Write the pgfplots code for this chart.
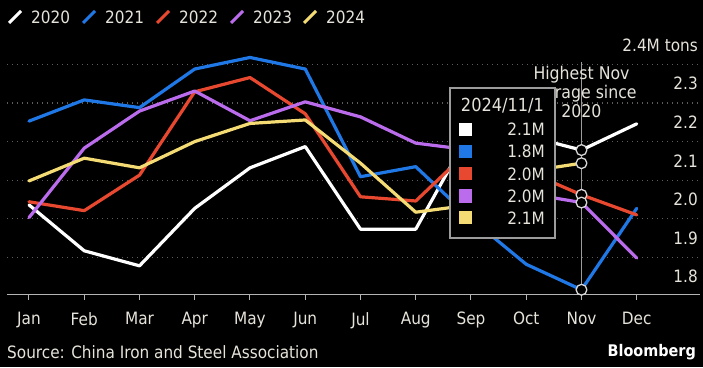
\documentclass[border=0pt]{standalone}
\usepackage{fontspec}
\setmainfont{DejaVu Sans Condensed}
\usepackage{pgfplots}
\pgfplotsset{compat=1.18}
\definecolor{txt}{HTML}{E6E3DA}
\definecolor{gridcol}{HTML}{5C5C5C}
\definecolor{basecol}{HTML}{B4B4B4}
\definecolor{vcol}{HTML}{9C9C9C}
\definecolor{mcol}{HTML}{D8D8D8}
\definecolor{cwhite}{HTML}{FFFFFF}
\definecolor{cblue}{HTML}{1F78E6}
\definecolor{cred}{HTML}{E8482F}
\definecolor{cpurple}{HTML}{BA6CEC}
\definecolor{cyellow}{HTML}{F4DB74}
\begin{document}
\begin{tikzpicture}[x=1pt,y=1pt]
\path[fill=black, use as bounding box] (0,0) rectangle (703,367);
\begin{axis}[
  at={(7pt,73pt)}, anchor=south west,
  width=693pt, height=256.6pt, scale only axis,
  xmin=-0.398, xmax=12.145, ymin=1.755, ymax=2.42,
  axis line style={draw=none},
  clip=false,
  xtick={0,...,11},
  xticklabels={Jan,Feb,Mar,Apr,May,Jun,Jul,Aug,Sep,Oct,Nov,Dec},
  xtick pos=bottom, tick align=outside, major tick length=6pt,
  xtick style={draw=basecol, line width=1pt},
  xticklabel style={anchor=north, inner sep=0pt, yshift=-12pt},
  ytick={1.8,1.9,2.0,2.1,2.2,2.3,2.4},
  yticklabels={1.8,1.9,2.0,2.1,2.2,2.3,2.4M tons},
  ytick style={draw=none},
  yticklabel pos=right,
  yticklabel style={anchor=east, inner sep=0pt, xshift=-8pt},
  ticklabel style={font=\fontsize{17}{17}\selectfont, text=txt},
  extra y ticks={1.85,1.95,2.05,2.15,2.25,2.35},
  extra y tick labels={},
  extra y tick style={grid=major, tick style={draw=none}},
  major grid style={gridcol, line width=1.3pt, dash pattern=on 1.4pt off 3.6pt},
  every axis plot/.append style={line width=3.2pt, line join=round, line cap=round},
]
\draw[basecol, line width=1pt] (rel axis cs:0,0) -- (rel axis cs:1,0);
\draw[vcol, line width=1.2pt] (axis cs:10,2.356) -- (axis cs:10,1.755);
\node[align=center, text=txt, font=\fontsize{17.5}{19}\selectfont] at (axis cs:10,2.278) {Highest Nov\\average since\\2020};

% 2020
\addplot[cwhite] coordinates {(0,1.986) (1,1.867) (2,1.828) (3,1.977) (4,2.082) (5,2.137) (6,1.923) (7,1.923) (8,2.180) (9,2.165) (10,2.128) (11,2.196)};
% 2021
\addplot[cblue] coordinates {(0,2.203) (1,2.258) (2,2.238) (3,2.338) (4,2.368) (5,2.338) (6,2.059) (7,2.085) (8,1.950) (9,1.832) (10,1.766) (11,1.977)};
% 2022
\addplot[cred] coordinates {(0,1.994) (1,1.971) (2,2.063) (3,2.279) (4,2.316) (5,2.222) (6,2.007) (7,1.996) (8,2.132) (9,2.074) (10,2.012) (11,1.960)};
% 2023
\addplot[cpurple] coordinates {(0,1.953) (1,2.133) (2,2.229) (3,2.281) (4,2.204) (5,2.253) (6,2.214) (7,2.146) (8,2.128) (9,2.016) (10,1.992) (11,1.848)};
% 2024
\addplot[cyellow] coordinates {(0,2.048) (1,2.107) (2,2.082) (3,2.150) (4,2.197) (5,2.206) (6,2.094) (7,1.967) (8,1.986) (9,2.072) (10,2.094)};
% hover markers
\addplot[only marks, mark=*, mark size=5.4pt, mark options={fill=black, draw=mcol, line width=1.3pt}] coordinates {(10,2.128) (10,2.094) (10,2.012) (10,1.992) (10,1.766)};
\end{axis}

% tooltip
\draw[fill=black, draw=vcol, line width=1.2pt] (450,129) rectangle (555,279);
\node[text=txt, font=\fontsize{18}{18}\selectfont] at (502.5,261) {2024/11/1};
\foreach \yy/\cc/\vv in {237.7/cwhite/2.1M, 215.3/cblue/1.8M, 193/cred/2.0M, 171/cpurple/2.0M, 149.3/cyellow/2.1M}{
  \fill[\cc] (459,\yy-6.5) rectangle (472,\yy+6.5);
  \node[anchor=east, inner sep=0pt, text=txt, font=\fontsize{17}{17}\selectfont] at (545,\yy) {\vv};
}

% legend
\foreach \xx/\cc/\lab in {8/cwhite/2020, 82/cblue/2021, 156/cred/2022, 230/cpurple/2023, 303/cyellow/2024}{
  \draw[\cc, line width=3pt] (\xx+1,344) -- (\xx+13,356);
  \node[anchor=west, inner sep=0pt, text=txt, font=\fontsize{17}{17}\selectfont] at (\xx+23,350) {\lab};
}

% footer
\node[anchor=west, inner sep=0pt, text=txt, font=\fontsize{17}{17}\selectfont] at (7,15) {Source: China Iron and Steel Association};
\node[anchor=east, inner sep=0pt, text=white, font=\bfseries\fontsize{16}{16}\selectfont] at (696,15) {Bloomberg};
\end{tikzpicture}
\end{document}
